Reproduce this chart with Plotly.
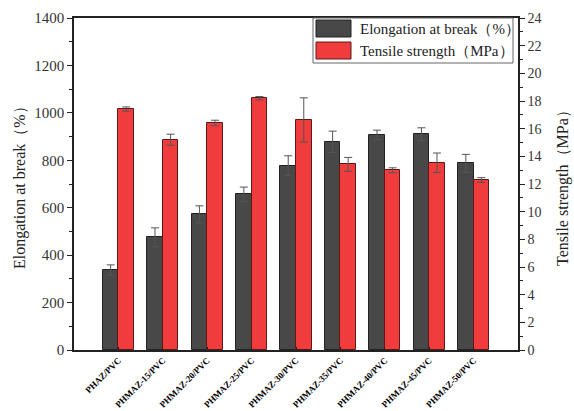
import plotly.graph_objects as go

categories = ["PHAZ/PVC", "PHMAZ-15/PVC", "PHMAZ-20/PVC", "PHMAZ-25/PVC", "PHMAZ-30/PVC",
              "PHMAZ-35/PVC", "PHMAZ-40/PVC", "PHMAZ-45/PVC", "PHMAZ-50/PVC"]
elongation = [337, 475, 572, 657, 777, 878, 907, 910, 787]
elongation_err = [22, 40, 36, 30, 42, 45, 20, 27, 38]
tensile = [17.42, 15.2, 16.41, 18.2, 16.63, 13.42, 12.99, 13.54, 12.29]
tensile_err = [0.15, 0.4, 0.2, 0.12, 1.6, 0.5, 0.18, 0.7, 0.17]
series_names = ["Elongation at break（%）", "Tensile strength（MPa）"]
series_colors = ["#484848", "#f03c3c"]
series_edges = ["#222222", "#5a1a1a"]

xpos = list(range(len(categories)))
FONT = "Liberation Serif, Times New Roman, serif"
bw = 0.35

# plot area in pixels
L, R, T, B = 74, 518, 18, 350
W, H = R - L, B - T
def px(x):
    return (x - L) / W
def py(y):
    return (B - y) / H

fig = go.Figure()
fig.add_trace(go.Bar(
    x=xpos, y=elongation, name=series_names[0], showlegend=False,
    width=bw, offset=-bw, yaxis="y",
    marker=dict(color=series_colors[0], line=dict(color=series_edges[0], width=1)),
    error_y=dict(type="data", array=elongation_err, color="#555555", thickness=1, width=4),
))
fig.add_trace(go.Bar(
    x=xpos, y=tensile, name=series_names[1], showlegend=False,
    width=bw, offset=0, yaxis="y2",
    marker=dict(color=series_colors[1], line=dict(color=series_edges[1], width=1)),
    error_y=dict(type="data", array=tensile_err, color="#555555", thickness=1, width=4),
))

shapes = [
    dict(type="rect", xref="paper", yref="paper", x0=px(313), x1=px(513), y0=py(63), y1=py(18),
         line=dict(color="#666666", width=1), fillcolor="white", layer="above"),
]
annotations = []
rows = [(20, 37, 29), (42, 59, 51)]
for i, (y0, y1, yc) in enumerate(rows):
    shapes.append(dict(type="rect", xref="paper", yref="paper", x0=px(316), x1=px(351),
                       y0=py(y1), y1=py(y0), fillcolor=series_colors[i],
                       line=dict(color=series_edges[i], width=1), layer="above"))
    annotations.append(dict(xref="paper", yref="paper", x=px(358), y=py(yc), text=series_names[i],
                            showarrow=False, xanchor="left", yanchor="middle",
                            font=dict(family=FONT, size=15, color="#222222")))

annotations.append(dict(xref="paper", yref="paper", x=px(20), y=py(184), text="Elongation at break（%）",
                        textangle=-90, showarrow=False, xanchor="center", yanchor="middle",
                        font=dict(family=FONT, size=16, color="#222222")))
annotations.append(dict(xref="paper", yref="paper", x=px(563), y=py(184), text="Tensile strength（MPa）",
                        textangle=-90, showarrow=False, xanchor="center", yanchor="middle",
                        font=dict(family=FONT, size=16, color="#222222")))

fig.update_layout(
    width=574, height=411,
    margin=dict(l=L, r=574 - R, t=T, b=411 - B, autoexpand=False),
    plot_bgcolor="white", paper_bgcolor="white",
    font=dict(family=FONT, size=14, color="#333333"),
    bargap=0, barmode="overlay", showlegend=False,
    shapes=shapes, annotations=annotations,
    xaxis=dict(
        range=[-1, 9], tickvals=xpos, ticktext=categories, tickangle=-45,
        tickfont=dict(family=FONT, size=9, color="black", weight="bold"),
        showline=True, linecolor="#222222", linewidth=1.5, mirror=True,
        ticks="inside", ticklen=3, tickcolor="#222222", showgrid=False, zeroline=False,
        automargin=False,
    ),
    yaxis=dict(
        range=[0, 1400], dtick=200,
        showline=True, linecolor="#222222", linewidth=1.5,
        ticks="outside", ticklen=5, tickcolor="#222222", showgrid=False, zeroline=False,
        minor=dict(dtick=100, ticks="outside", ticklen=3, tickcolor="#222222"),
        tickfont=dict(size=15, color="#333333"), automargin=False,
    ),
    yaxis2=dict(
        range=[0, 24], dtick=2, overlaying="y", side="right",
        showline=True, linecolor="#222222", linewidth=1.5,
        ticks="outside", ticklen=5, tickcolor="#222222", showgrid=False, zeroline=False,
        minor=dict(dtick=1, ticks="outside", ticklen=3, tickcolor="#222222"),
        tickfont=dict(size=14, color="#333333"), automargin=False,
    ),
)

fig.write_html("out.html", config={"displayModeBar": False},
               post_script="document.body.style.margin='0px';document.body.style.overflow='hidden';")
